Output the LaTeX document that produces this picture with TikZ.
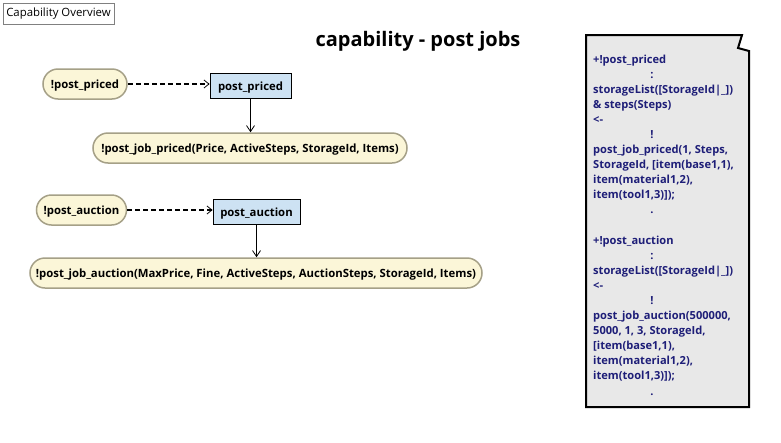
\documentclass[tikz,border=0pt]{standalone}
\usepackage{fontspec}
\setmainfont{Open Sans}
\usetikzlibrary{arrows.meta}
\definecolor{pillfill}{RGB}{251,246,216}
\definecolor{pillborder}{RGB}{165,160,135}
\definecolor{boxfill}{RGB}{205,226,243}
\definecolor{notefill}{RGB}{232,232,232}
\definecolor{notetext}{RGB}{30,30,120}
\definecolor{capborder}{RGB}{128,128,128}
\tikzset{
  pill/.style={draw=pillborder, fill=pillfill, line width=1.5pt, rounded corners=15pt,
    minimum height=30pt, inner sep=0pt, text height=11pt, text depth=2.6pt,
    font=\bfseries\fontsize{11.35}{13}\selectfont},
  actbox/.style={draw=black, fill=boxfill, line width=0.8pt, minimum height=25pt,
    inner sep=0pt, text height=11pt, text depth=2.6pt, font=\bfseries\fontsize{11.35}{13}\selectfont},
  dasharrow/.style={line width=1.5pt, dash pattern=on 5pt off 3pt, -{Straight Barb[length=5pt,width=8pt,line width=0.8pt]}},
  solidarrow/.style={line width=0.8pt, -{Straight Barb[length=6pt,width=8pt]}},
  noteline/.style={anchor=base west, inner sep=0pt, text=notetext, font=\bfseries\fontsize{11.1}{13}\selectfont},
  notemid/.style={anchor=base, inner sep=0pt, text=notetext, font=\bfseries\fontsize{11.1}{13}\selectfont}
}
\begin{document}
\begin{tikzpicture}[x=1pt,y=-1pt]
\useasboundingbox[fill=white] (0,0) rectangle (781,442);
% header box
\node[draw=capborder, line width=0.8pt, minimum width=111pt, minimum height=21pt, inner sep=0pt,
  font=\fontsize{11.4}{13}\selectfont] (cap) at (58.5,13.5) {Capability Overview};
% title
\node[font=\bfseries\fontsize{20}{24}\selectfont] (title) at (418,41) {capability - post jobs};
% priced
\node[pill, minimum width=84pt] (pp) at (85,84) {!post\_priced};
\node[actbox, minimum width=81pt] (pr) at (250.5,86) {post\_priced};
\node[pill, minimum width=314pt] (pjp) at (250,148) {!post\_job\_priced(Price, ActiveSteps, StorageId, Items)};
\draw[dasharrow] (pp.east) -- (pp.east -| pr.west);
\draw[solidarrow] (pr.south) -- (pr.south |- pjp.north);
% auction
\node[pill, minimum width=90pt] (pa) at (81.5,210) {!post\_auction};
\node[actbox, minimum width=87pt] (ar) at (256.5,212) {post\_auction};
\node[pill, minimum width=452pt] (pja) at (256,273) {!post\_job\_auction(MaxPrice, Fine, ActiveSteps, AuctionSteps, StorageId, Items)};
\draw[dasharrow] (pa.east) -- (pa.east -| ar.west);
\draw[solidarrow] (ar.south) -- (ar.south |- pja.north);
% note
\draw[fill=notefill, line width=2pt, line join=miter] (586,35) -- (742,35) -- (738,48) -- (749,51) -- (749,407) -- (586,407) -- cycle;
\node[noteline] (l1) at (593,63) {+!post\_priced};
\node[notemid] (l2) at (652,78) {:};
\node[noteline] (l3) at (593,93) {storageList([StorageId|\_])};
\node[noteline] (l4) at (593,108) {\& steps(Steps)};
\node[noteline] (l5) at (593,123) {<-};
\node[notemid] (l6) at (652,138) {!};
\node[noteline] (l7) at (593,153) {post\_job\_priced(1, Steps,};
\node[noteline] (l8) at (593,168) {StorageId, [item(base1,1),};
\node[noteline] (l9) at (593,183) {item(material1,2),};
\node[noteline] (l10) at (593,198) {item(tool1,3)]);};
\node[notemid] (l11) at (652,213) {.};
\node[noteline] (l13) at (593,244) {+!post\_auction};
\node[notemid] (l14) at (652,259) {:};
\node[noteline] (l15) at (593,274) {storageList([StorageId|\_])};
\node[noteline] (l16) at (593,289) {<-};
\node[notemid] (l17) at (652,304) {!};
\node[noteline] (l18) at (593,319) {post\_job\_auction(500000,};
\node[noteline] (l19) at (593,334) {5000, 1, 3, StorageId,};
\node[noteline] (l20) at (593,349) {[item(base1,1),};
\node[noteline] (l21) at (593,364) {item(material1,2),};
\node[noteline] (l22) at (593,379) {item(tool1,3)]);};
\node[notemid] (l23) at (652,395) {.};
\end{tikzpicture}
\end{document}
